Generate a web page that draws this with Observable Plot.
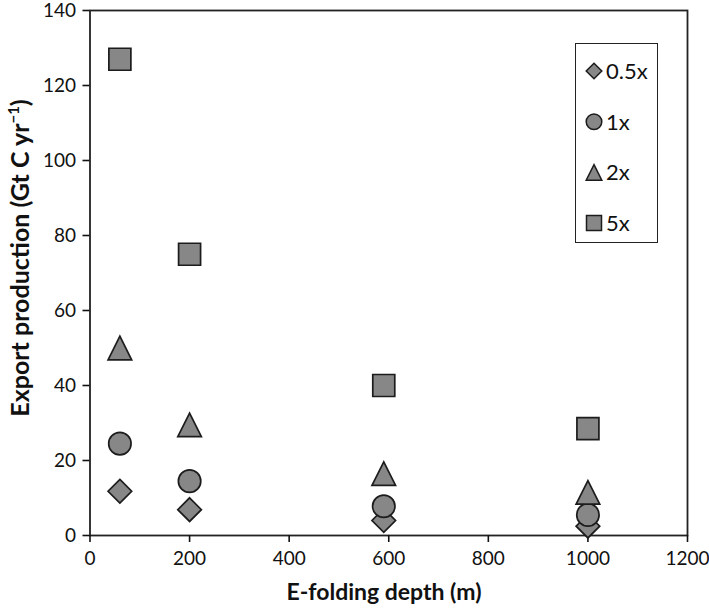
<!DOCTYPE html>
<html>
<head>
<meta charset="utf-8">
<script src="https://cdn.jsdelivr.net/npm/d3@7"></script>
<script src="https://cdn.jsdelivr.net/npm/@observablehq/plot@0.6"></script>
<style>
  html, body { margin: 0; padding: 0; background: #fff; }
  #wrap { position: relative; width: 709px; height: 609px; font-family: Lato, sans-serif; color: #111; overflow: hidden; }
  #wrap svg.plot { position: absolute; left: 0; top: 0; overflow: visible; }
  .title { position: absolute; font-weight: bold; font-size: 23px; white-space: nowrap; line-height: 1; }
  #xtitle { left: 0; width: 768px; text-align: center; top: 580px; }
  #ytitle { left: 19px; top: 258px; font-size: 25px; transform: translate(-50%, -50%) rotate(-90deg); }
  #ytitle sup { font-size: 15px; vertical-align: 10px; line-height: 0; }
  #legend { position: absolute; left: 575px; top: 43px; width: 81px; height: 198px; border: 1.6px solid #222; background: #fff; }
</style>
</head>
<body>
<div id="wrap"></div>
<script>
// ---- data ----
const depths = [60, 200, 590, 1000];
const seriesNames = ["0.5x", "1x", "2x", "5x"];
const v05 = [11.8, 6.9, 4.0, 2.5];
const v1  = [24.5, 14.5, 7.8, 5.5];
const v2  = [50.0, 29.5, 16.5, 11.5];
const v5  = [127.0, 75.0, 40.0, 28.5];
const xTicks = [0, 200, 400, 600, 800, 1000, 1200];
const yTicks = [0, 20, 40, 60, 80, 100, 120, 140];

// ---- symbols (half-extent derived from size = pi r^2) ----
const half = size => Math.sqrt(size / Math.PI);
const symDiamond = { draw(c, size) { const h = half(size); c.moveTo(0, -h); c.lineTo(h, 0); c.lineTo(0, h); c.lineTo(-h, 0); c.closePath(); } };
const symCircle = { draw(c, size) { const h = half(size); c.moveTo(h, 0); c.arc(0, 0, h, 0, 2 * Math.PI); c.closePath(); } };
const symTriangle = { draw(c, size) { const h = half(size); c.moveTo(0, -h); c.lineTo(h, h); c.lineTo(-h, h); c.closePath(); } };
const symSquare = { draw(c, size) { const h = half(size); c.rect(-h, -h, 2 * h, 2 * h); } };

const series = [
  { name: seriesNames[0], values: v05, symbol: symDiamond, r: 11.8, lr: 7.8 },
  { name: seriesNames[1], values: v1,  symbol: symCircle,  r: 11.2, lr: 7.8 },
  { name: seriesNames[2], values: v2,  symbol: symTriangle, r: 11.8, lr: 7.8 },
  { name: seriesNames[3], values: v5,  symbol: symSquare,  r: 11.0, lr: 7.5 }
];

const fill = "#878787", stroke = "#1c1c1c";
const fmt = d => String(d);

const marks = [
  Plot.frame({ stroke: "#222", strokeWidth: 1.8 }),
  Plot.axisX({ ticks: xTicks, tickFormat: fmt, tickSize: 7, tickPadding: 9, label: null, strokeWidth: 1.6, fontSize: 19 }),
  Plot.axisY({ ticks: yTicks, tickFormat: fmt, tickSize: 7, tickPadding: 7, label: null, strokeWidth: 1.6, fontSize: 19 })
];
for (const s of series) {
  const rows = depths.map((d, i) => ({ depth: d, value: s.values[i] }));
  marks.push(Plot.dot(rows, { x: "depth", y: "value", r: s.r, symbol: s.symbol, fill, stroke, strokeWidth: 1.7, fillOpacity: 1 }));
}

const chart = Plot.plot({
  width: 709,
  height: 609,
  marginLeft: 89.5,
  marginRight: 22,
  marginTop: 10,
  marginBottom: 74,
  x: { domain: [0, 1200] },
  y: { domain: [0, 140] },
  style: { fontFamily: "Lato, sans-serif", fontSize: "19px", color: "#111", background: "transparent", overflow: "visible" },
  marks
});
chart.classList.add("plot");

const wrap = document.getElementById("wrap");
wrap.appendChild(chart);

const xt = document.createElement("div");
xt.className = "title"; xt.id = "xtitle";
xt.textContent = "E-folding depth (m)";
wrap.appendChild(xt);

const yt = document.createElement("div");
yt.className = "title"; yt.id = "ytitle";
yt.innerHTML = "Export production (Gt C yr<sup>\u22121</sup>)";
wrap.appendChild(yt);

// ---- legend ----
const legend = document.createElement("div");
legend.id = "legend";
wrap.appendChild(legend);
const lsvg = d3.select(legend).append("svg").attr("width", 81).attr("height", 198).style("position", "absolute").style("left", "0").style("top", "0");
series.forEach((s, i) => {
  const cy = 27 + i * 50.7;
  lsvg.append("path")
    .attr("transform", `translate(18,${cy})`)
    .attr("d", d3.symbol(s.symbol, Math.PI * s.lr * s.lr)())
    .attr("fill", fill).attr("stroke", stroke).attr("stroke-width", 1.5);
  lsvg.append("text")
    .attr("x", 30).attr("y", cy).attr("dy", "0.36em")
    .attr("font-size", 22).attr("font-family", "Lato, sans-serif").attr("fill", "#111")
    .text(s.name);
});
</script>
</body>
</html>
